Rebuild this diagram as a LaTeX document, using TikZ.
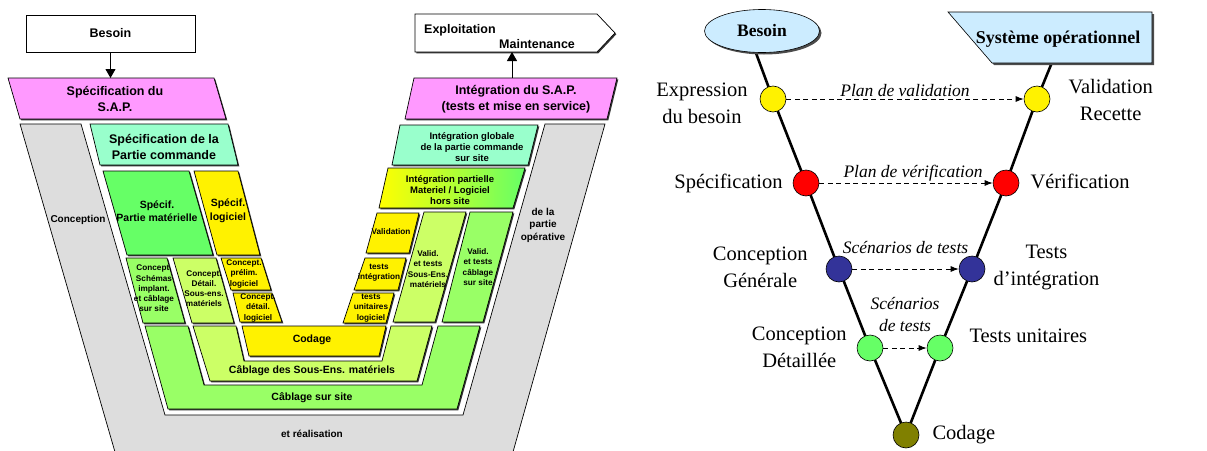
\documentclass[tikz,border=0pt]{standalone}
\usepackage{fontspec}
\setmainfont{Liberation Serif}
\newfontfamily\arialfont{Liberation Sans}
\usetikzlibrary{shapes.geometric,arrows.meta,positioning,shadows,backgrounds}

\definecolor{rose}{HTML}{FF99FF}
\definecolor{aqua}{HTML}{99FFCC}
\definecolor{vertfonce}{HTML}{66FF66}
\definecolor{vertclair}{HTML}{99FF66}
\definecolor{vertjaune}{HTML}{CCFF66}
\definecolor{gris}{HTML}{DDDDDD}
\definecolor{bleuciel}{HTML}{CCECFF}
\definecolor{bleunuit}{HTML}{333399}
\definecolor{kaki}{HTML}{808000}

\tikzset{
  bloc/.style={draw=black, line width=0.7pt, drop shadow={shadow xshift=1.3pt, shadow yshift=-1.3pt, fill=black!80, opacity=1}},
  grand/.style={align=center, inner sep=0pt, font=\arialfont\bfseries\fontsize{12.5}{15.5}\selectfont},
  moyen/.style={align=center, inner sep=0pt, font=\arialfont\bfseries\fontsize{10.5}{13.5}\selectfont},
  petit/.style={align=center, inner sep=0pt, font=\arialfont\bfseries\fontsize{9.5}{10.8}\selectfont},
  mini/.style={align=center, inner sep=0pt, font=\arialfont\bfseries\fontsize{8.2}{10.2}\selectfont},
  gristxt/.style={align=center, inner sep=0pt, font=\arialfont\bfseries\fontsize{10}{12.5}\selectfont},
  flechepleine/.style={line width=0.9pt, -{Triangle[length=9pt,width=10pt]}},
  lbl/.style={align=center, inner sep=0pt, font=\fontsize{20.5}{27}\selectfont},
  ital/.style={align=center, inner sep=0pt, font=\itshape\fontsize{17.5}{22}\selectfont},
  etape/.style={circle, draw=black, line width=0.6pt, minimum size=26pt, inner sep=0pt},
  fleche/.style={line width=0.9pt, dash pattern=on 5pt off 3.5pt, -{Latex[length=8pt,width=6pt]}}
}

\begin{document}
\begin{tikzpicture}[x=1pt,y=-1pt]
\useasboundingbox (0,0) rectangle (1207,450);

% cycle en V detaille
\filldraw[fill=gris, line width=0.7pt] (20,124) -- (81,124) -- (165,415) -- (463,415) -- (545,124) -- (605,124) -- (513,452) -- (115,452) -- cycle;
\node[gristxt] (conception) at (78,220) {Conception};
\node[gristxt] (operative) at (543,225) {de la\\partie\\opérative};
\node[gristxt] (realisation) at (312,434) {et réalisation};

\node[bloc, fill=white, minimum width=169pt, minimum height=37pt, grand] (besoin) at (110.5,33.5) {Besoin};
\filldraw[bloc, fill=rose] (8,78) -- (214,78) -- (226,119) -- (20,119) -- cycle;
\node[grand] (specsap) at (115,99) {Spécification du\\S.A.P.};
\coordinate (hautsap) at (110.5,78);
\draw[flechepleine] (besoin) -- (hautsap);

\filldraw[bloc, fill=white] (415,14) -- (597,14) -- (615,33) -- (597,52) -- (415,52) -- cycle;
\node[grand, align=left, anchor=west] (exploit) at (424,36.5) {Exploitation\\\hspace*{75pt}Maintenance};
\filldraw[bloc, fill=rose] (414,78) -- (617,78) -- (607,119) -- (405,119) -- cycle;
\node[grand] (integsap) at (516,99) {Intégration du S.A.P.\\(tests et mise en service)};
\coordinate (hautinteg) at (512,78);
\coordinate (basexploit) at (512,52);
\draw[flechepleine] (hautinteg) -- (basexploit);

% branche descendante
\filldraw[bloc, fill=aqua] (90,124) -- (228,124) -- (238,165) -- (100,165) -- cycle;
\node[grand] (specpc) at (164,147) {Spécification de la\\Partie commande};
\filldraw[bloc, fill=vertfonce] (103,171) -- (189,171) -- (213,255) -- (127,255) -- cycle;
\node[moyen] (specmat) at (157,211) {Spécif.\\Partie matérielle};
\filldraw[bloc, fill=yellow] (194,171) -- (238,171) -- (260,255) -- (217,255) -- cycle;
\node[moyen] (speclog) at (228,211) {Spécif.\\logiciel};
\filldraw[bloc, fill=vertclair] (126,258) -- (167,258) -- (185,323) -- (143,323) -- cycle;
\node[mini] (schemas) at (154,288.5) {Concept.\\Schémas\\implant.\\et câblage\\sur site};
\filldraw[bloc, fill=vertjaune] (173,258) -- (216,258) -- (234,323) -- (192,323) -- cycle;
\node[mini] (sousens) at (204,288.5) {Concept.\\Détail.\\Sous-ens.\\matériels};
\filldraw[bloc, fill=yellow] (221,258) -- (261,258) -- (271,290) -- (231,290) -- cycle;
\node[mini] (prelim) at (244,274) {Concept.\\prélim.\\logiciel};
\filldraw[bloc, fill=yellow] (233,293) -- (272,293) -- (282,322) -- (240,322) -- cycle;
\node[mini] (detail) at (258,308) {Concept.\\détail.\\logiciel};

% branche montante
\filldraw[bloc, fill=aqua] (400,125) -- (538,125) -- (528,165) -- (392,165) -- cycle;
\node[petit] (integglob) at (472,147) {Intégration globale\\de la partie commande\\sur site};
\shadedraw[bloc, left color=yellow, right color=vertfonce] (388,168) -- (525,168) -- (513,208) -- (379,208) -- cycle;
\node[petit] (integpart) at (450,190) {Intégration partielle\\Materiel / Logiciel\\hors site};
\filldraw[bloc, fill=yellow] (377,213) -- (419,213) -- (409,253) -- (366,253) -- cycle;
\node[mini] (validation) at (391,232) {Validation};
\filldraw[bloc, fill=yellow] (365,258) -- (406,258) -- (398,290) -- (354,290) -- cycle;
\node[mini] (testinteg) at (379,273) {tests\\intégration};
\filldraw[bloc, fill=yellow] (353,293) -- (394,293) -- (386,323) -- (343,323) -- cycle;
\node[mini] (testunit) at (371,308) {tests\\unitaires\\logiciel};
\filldraw[bloc, fill=vertjaune] (424,212) -- (466,212) -- (435,322) -- (393,322) -- cycle;
\node[mini] (validse) at (428,269) {Valid.\\et tests\\Sous-Ens.\\matériels};
\filldraw[bloc, fill=vertclair] (470,212) -- (513,212) -- (483,322) -- (442,322) -- cycle;
\node[mini] (validcab) at (478,267) {Valid.\\et tests\\câblage\\sur site};

% fond du V
\filldraw[bloc, fill=yellow] (242,326) -- (386,326) -- (379,356) -- (249,356) -- cycle;
\node[moyen] (codageG) at (312,340) {Codage};
\filldraw[bloc, fill=vertjaune] (193,326) -- (236,326) -- (244,361) -- (382,361) -- (391,326) -- (432,326) -- (417,381) -- (210,381) -- cycle;
\node[moyen] (cabse) at (312,371) {Câblage des Sous-Ens. matériels};
\filldraw[bloc, fill=vertclair] (145,326) -- (188,326) -- (204,385) -- (422,385) -- (438,326) -- (480,326) -- (457,409) -- (168,409) -- cycle;
\node[moyen] (cabsite) at (312,398) {Câblage sur site};

% cycle en V simple
\node[ellipse, draw, line width=0.6pt, fill=bleuciel, minimum width=115pt, minimum height=43pt, drop shadow={shadow xshift=2pt, shadow yshift=-2pt, fill=black!70, opacity=1}, font=\bfseries\fontsize{17.5}{20}\selectfont] (besoinV) at (762,31) {Besoin};
\filldraw[fill=bleuciel, line width=0.6pt, drop shadow={shadow xshift=2pt, shadow yshift=-2pt, fill=black!70, opacity=1}] (948,12) -- (1152,12) -- (1152,63) -- (992,63) -- cycle;
\node[font=\bfseries\fontsize{18}{20}\selectfont, inner sep=0pt] (sysop) at (1058,39) {Système opérationnel};

\node[etape, fill=yellow] (expr) at (773,99) {};
\node[etape, fill=yellow] (valid) at (1037,99) {};
\node[etape, fill=red] (spec) at (806,183) {};
\node[etape, fill=red] (verif) at (1006,183) {};
\node[etape, fill=bleunuit] (concg) at (839,269) {};
\node[etape, fill=bleunuit] (testi) at (972,269) {};
\node[etape, fill=vertfonce] (concd) at (870,348) {};
\node[etape, fill=vertfonce] (testu) at (940,348) {};
\node[etape, fill=kaki] (codage) at (906,435) {};

\coordinate (hautG) at (753,45);
\coordinate (hautD) at (1055,55);
\begin{scope}[on background layer]
\draw[line width=2.6pt, line join=round] (hautG) -- (expr.center) -- (spec.center) -- (concg.center) -- (concd.center) -- (codage.center) -- (testu.center) -- (testi.center) -- (verif.center) -- (valid.center) -- (hautD);
\end{scope}

\draw[fleche] (expr) -- (valid) node[ital, midway, above=2pt] {Plan de validation};
\draw[fleche] (spec) -- (verif) node[ital, midway, above=1pt, xshift=7pt] {Plan de vérification};
\draw[fleche] (concg) -- (testi) node[ital, midway, above=15pt] {Scénarios de tests};
\draw[fleche] (concd) -- (testu) node[ital, midway, above=16pt] {Scénarios\\de tests};

\node[lbl, left=12pt of expr, yshift=-4pt] (lexpr) {Expression\\du besoin};
\node[lbl, right=18pt of valid, yshift=-1pt] (lvalid) {Validation\\Recette};
\node[lbl, left=10pt of spec] (lspec) {Spécification};
\node[lbl, right=11pt of verif, yshift=2pt] (lverif) {Vérification};
\node[lbl, left=18pt of concg, yshift=2pt] (lconcg) {Conception\\Générale};
\node[lbl, right=8pt of testi, yshift=2pt] (ltesti) {Tests\\d’intégration};
\node[lbl, left=10pt of concd, yshift=1pt] (lconcd) {Conception\\Détaillée};
\node[lbl, right=16pt of testu, yshift=12pt] (ltestu) {Tests unitaires};
\node[lbl, right=13pt of codage] (lcodage) {Codage};
\end{tikzpicture}
\end{document}
